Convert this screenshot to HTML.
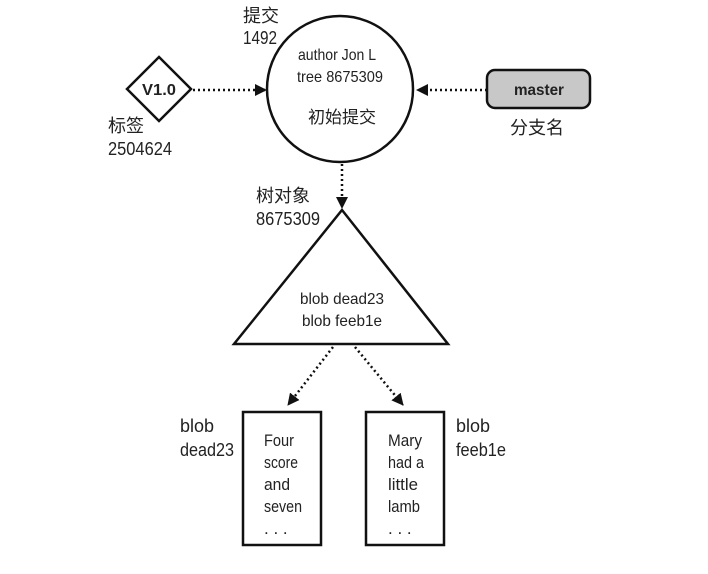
<!DOCTYPE html>
<html><head><meta charset="utf-8"><style>
html,body{margin:0;padding:0;background:#fff;}
svg text{font-family:"Liberation Sans Narrow","Liberation Sans","Noto Sans CJK SC",sans-serif;fill:#222;}
</style></head><body>
<svg width="708" height="569" viewBox="0 0 708 569" xmlns="http://www.w3.org/2000/svg">
<defs>
<marker id="a" markerWidth="12" markerHeight="12" refX="11" refY="6" orient="auto" markerUnits="userSpaceOnUse">
<path d="M0,0 L12,6 L0,12 z" fill="#111"/></marker>
</defs>
<g stroke="#111" stroke-width="2.5" fill="none">
<circle cx="340" cy="89" r="73" fill="#fff"/>
<path d="M159,57 L191,89 L159,121 L127,89 z" fill="#fff"/>
<rect x="487" y="70" width="103" height="38" rx="8" fill="#c8c8c8"/>
<path d="M342,210 L448,344 L234,344 z" fill="#fff"/>
<rect x="243" y="412" width="78" height="133" fill="#fff"/>
<rect x="366" y="412" width="78" height="133" fill="#fff"/>
</g>
<g stroke="#111" stroke-width="2.5" stroke-dasharray="2,3" fill="none" marker-end="url(#a)">
<line x1="193" y1="90" x2="266" y2="90"/>
<line x1="487" y1="90" x2="417" y2="90"/>
<line x1="342" y1="164" x2="342" y2="208"/>
<line x1="333" y1="347" x2="288" y2="405"/>
<line x1="355" y1="347" x2="403" y2="405"/>
</g>
<g font-size="18" lengthAdjust="spacingAndGlyphs">
<text x="243" y="22" textLength="36">提交</text>
<text x="243" y="44" textLength="34" lengthAdjust="spacingAndGlyphs">1492</text>
<text x="108" y="132" textLength="36">标签</text>
<text x="108" y="155" textLength="64" lengthAdjust="spacingAndGlyphs">2504624</text>
<text x="510" y="134" textLength="54">分支名</text>
<text x="256" y="202" textLength="54">树对象</text>
<text x="256" y="225" textLength="64" lengthAdjust="spacingAndGlyphs">8675309</text>
<text x="180" y="432" textLength="34" lengthAdjust="spacingAndGlyphs">blob</text>
<text x="180" y="456" textLength="54" lengthAdjust="spacingAndGlyphs">dead23</text>
<text x="456" y="432" textLength="34" lengthAdjust="spacingAndGlyphs">blob</text>
<text x="456" y="456" textLength="50" lengthAdjust="spacingAndGlyphs">feeb1e</text>
</g>
<g font-size="16" text-anchor="middle">
<text x="337" y="60" textLength="78" lengthAdjust="spacingAndGlyphs">author Jon L</text>
<text x="340" y="82" textLength="86" lengthAdjust="spacingAndGlyphs">tree 8675309</text>
<text x="342" y="123" font-size="17">初始提交</text>
<text x="159" y="95" font-weight="bold" textLength="34" lengthAdjust="spacingAndGlyphs">V1.0</text>
<text x="539" y="95" font-weight="bold" textLength="50" lengthAdjust="spacingAndGlyphs">master</text>
<text x="342" y="304" textLength="84" lengthAdjust="spacingAndGlyphs">blob dead23</text>
<text x="342" y="326" textLength="80" lengthAdjust="spacingAndGlyphs">blob feeb1e</text>
</g>
<g font-size="17">
<text x="264" y="446" textLength="30" lengthAdjust="spacingAndGlyphs">Four</text>
<text x="264" y="468" textLength="34" lengthAdjust="spacingAndGlyphs">score</text>
<text x="264" y="490" textLength="26" lengthAdjust="spacingAndGlyphs">and</text>
<text x="264" y="512" textLength="38" lengthAdjust="spacingAndGlyphs">seven</text>
<text x="264" y="534">. . .</text>
<text x="388" y="446" textLength="34" lengthAdjust="spacingAndGlyphs">Mary</text>
<text x="388" y="468" textLength="36" lengthAdjust="spacingAndGlyphs">had a</text>
<text x="388" y="490" textLength="30" lengthAdjust="spacingAndGlyphs">little</text>
<text x="388" y="512" textLength="32" lengthAdjust="spacingAndGlyphs">lamb</text>
<text x="388" y="534">. . .</text>
</g>
</svg>
</body></html>
